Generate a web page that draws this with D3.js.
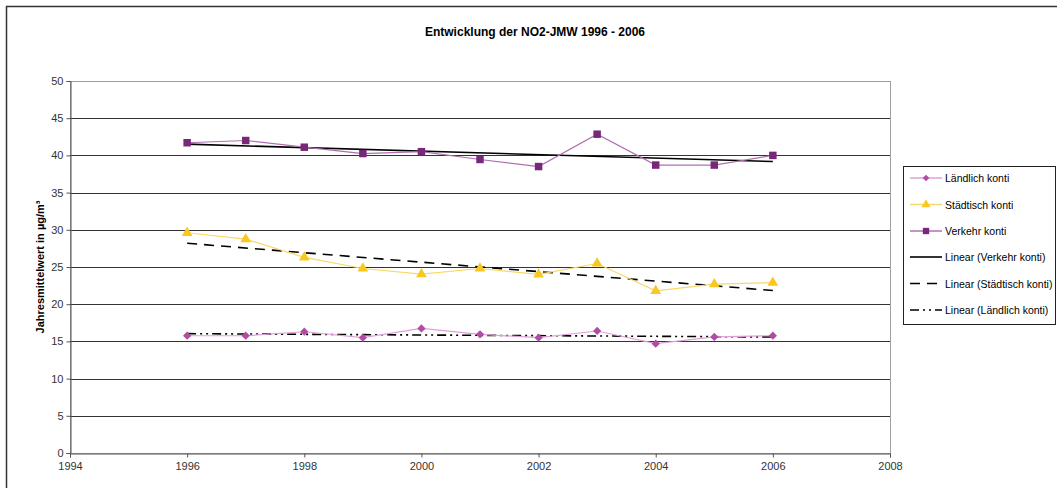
<!DOCTYPE html>
<html><head><meta charset="utf-8">
<script src="https://cdn.jsdelivr.net/npm/d3@7"></script>
<style>body{margin:0;background:#fff}svg{display:block}text{font-family:"Liberation Sans",Arial,sans-serif}</style>
</head><body>
<svg id="c" width="1057" height="488"></svg>
<script>
const years = [1996,1997,1998,1999,2000,2001,2002,2003,2004,2005,2006];
const laendlich = [15.76,15.76,16.3,15.5,16.75,15.95,15.5,16.4,14.7,15.6,15.76];
const staedtisch = [29.6,28.74,26.3,24.8,24.04,24.8,24.0,25.47,21.8,22.7,22.9];
const verkehr = [41.7,42.0,41.1,40.25,40.5,39.45,38.5,42.85,38.7,38.7,40.0];
const xTicks = [1994,1996,1998,2000,2002,2004,2006,2008];
const yTicks = [0,5,10,15,20,25,30,35,40,45,50];
const legendLabels = ["Ländlich konti","Städtisch konti","Verkehr konti","Linear (Verkehr konti)","Linear (Städtisch konti)","Linear (Ländlich konti)"];
const title = "Entwicklung der NO2-JMW 1996 - 2006";
const yLabel = "Jahresmittelwert in µg/m³";

const svg = d3.select("#c");
const L=70,R=890,T=81,B=453;
const x = d3.scaleLinear().domain([1994,2008]).range([L,R]);
const y = d3.scaleLinear().domain([0,50]).range([B,T]);

svg.append("rect").attr("x",6.5).attr("y",6.5).attr("width",1060).attr("height",500)
  .attr("fill","none").attr("stroke","#333").attr("stroke-width",1.5);

svg.append("text").attr("x",535).attr("y",36).attr("text-anchor","middle")
  .attr("font-size",12).attr("font-weight","bold").attr("fill","#000").text(title);

svg.append("rect").attr("x",L+0.5).attr("y",T+0.5).attr("width",R-L).attr("height",B-T)
  .attr("fill","none").attr("stroke","#a0a0a0");

svg.append("g").selectAll("line").data(yTicks.filter(v=>v>0&&v<50)).join("line")
  .attr("x1",L).attr("x2",R).attr("y1",d=>Math.round(y(d))+0.5).attr("y2",d=>Math.round(y(d))+0.5)
  .attr("stroke","#333").attr("stroke-width",1);

const ya = d3.axisLeft(y).tickValues(yTicks).tickSize(4).tickPadding(3);
const gy = svg.append("g").attr("transform",`translate(${L+0.5},0)`).call(ya);
gy.selectAll("text").attr("font-size",11).attr("fill","#333").attr("font-family","Liberation Sans, Arial, sans-serif");
gy.select(".domain").attr("stroke","#555");
gy.selectAll(".tick line").attr("stroke","#555");

const xa = d3.axisBottom(x).tickValues(xTicks).tickFormat(d3.format("d")).tickSize(4).tickPadding(5);
const gx = svg.append("g").attr("transform",`translate(0,${B+0.5})`).call(xa);
gx.selectAll("text").attr("font-size",11).attr("fill","#333").attr("font-family","Liberation Sans, Arial, sans-serif");
gx.select(".domain").attr("stroke","#555");
gx.selectAll(".tick line").attr("stroke","#555");

svg.append("text").attr("transform",`translate(44,${(T+B)/2}) rotate(-90)`).attr("text-anchor","middle")
  .attr("font-size",11).attr("font-weight","bold").attr("fill","#000").text(yLabel);

function reg(vals){
  const mx=d3.mean(years), my=d3.mean(vals);
  let sxy=0,sxx=0; years.forEach((t,i)=>{sxy+=(t-mx)*(vals[i]-my);sxx+=(t-mx)*(t-mx);});
  const b=sxy/sxx, a=my-b*mx;
  return [years[0],years[years.length-1]].map(t=>[t,a+b*t]);
}
const line = d3.line().x(d=>x(d[0])).y(d=>y(d[1]));

const series = [
  {vals:laendlich, line:"#e0a0d8", mark:"#b04ca4", sym:d3.symbolSquare, size:34, rot:45},
  {vals:staedtisch, line:"#f8d868", mark:"#f8c820", sym:d3.symbolTriangle, size:50, rot:0},
  {vals:verkehr, line:"#b070b0", mark:"#782878", sym:d3.symbolSquare, size:56, rot:0}
];
const trends = [
  {vals:verkehr, dash:null},
  {vals:staedtisch, dash:"10,7"},
  {vals:laendlich, dash:"9,4,2,4,2,4"}
];
trends.forEach(t=>{
  svg.append("path").attr("d",line(reg(t.vals))).attr("fill","none").attr("stroke","#000")
    .attr("stroke-width",1.6).attr("stroke-dasharray",t.dash);
});
series.forEach(s=>{
  const pts = years.map((t,i)=>[t,s.vals[i]]);
  svg.append("path").attr("d",line(pts)).attr("fill","none").attr("stroke",s.line).attr("stroke-width",1.2);
  svg.append("g").selectAll("path").data(pts).join("path")
    .attr("transform",d=>`translate(${x(d[0])},${y(d[1])}) rotate(${s.rot})`)
    .attr("d",d3.symbol().type(s.sym).size(s.size)).attr("fill",s.mark);
});

svg.append("rect").attr("x",903.5).attr("y",166.5).attr("width",152).attr("height",158)
  .attr("fill","#fff").attr("stroke","#222");
const ly = [178,204.5,231,257,283.5,310];
const lg = svg.append("g");
const legItems = [
  {c:series[0].line, sym:series[0].sym, m:series[0].mark, size:22, rot:45},
  {c:series[1].line, sym:series[1].sym, m:series[1].mark, size:36, rot:0},
  {c:series[2].line, sym:series[2].sym, m:series[2].mark, size:40, rot:0},
  {c:"#000", dash:null},
  {c:"#000", dash:"10,7"},
  {c:"#000", dash:"9,4,2,4,2,4"}
];
legItems.forEach((it,i)=>{
  lg.append("line").attr("x1",910).attr("x2",942).attr("y1",ly[i]).attr("y2",ly[i])
    .attr("stroke",it.c).attr("stroke-width",it.sym?1.5:1.6).attr("stroke-dasharray",it.dash||null);
  if(it.sym) lg.append("path").attr("transform",`translate(926,${ly[i]}) rotate(${it.rot})`)
    .attr("d",d3.symbol().type(it.sym).size(it.size)).attr("fill",it.m);
  lg.append("text").attr("x",945).attr("y",ly[i]+4).attr("font-size",10.5).attr("fill","#000").text(legendLabels[i]);
});
</script>
</body></html>
